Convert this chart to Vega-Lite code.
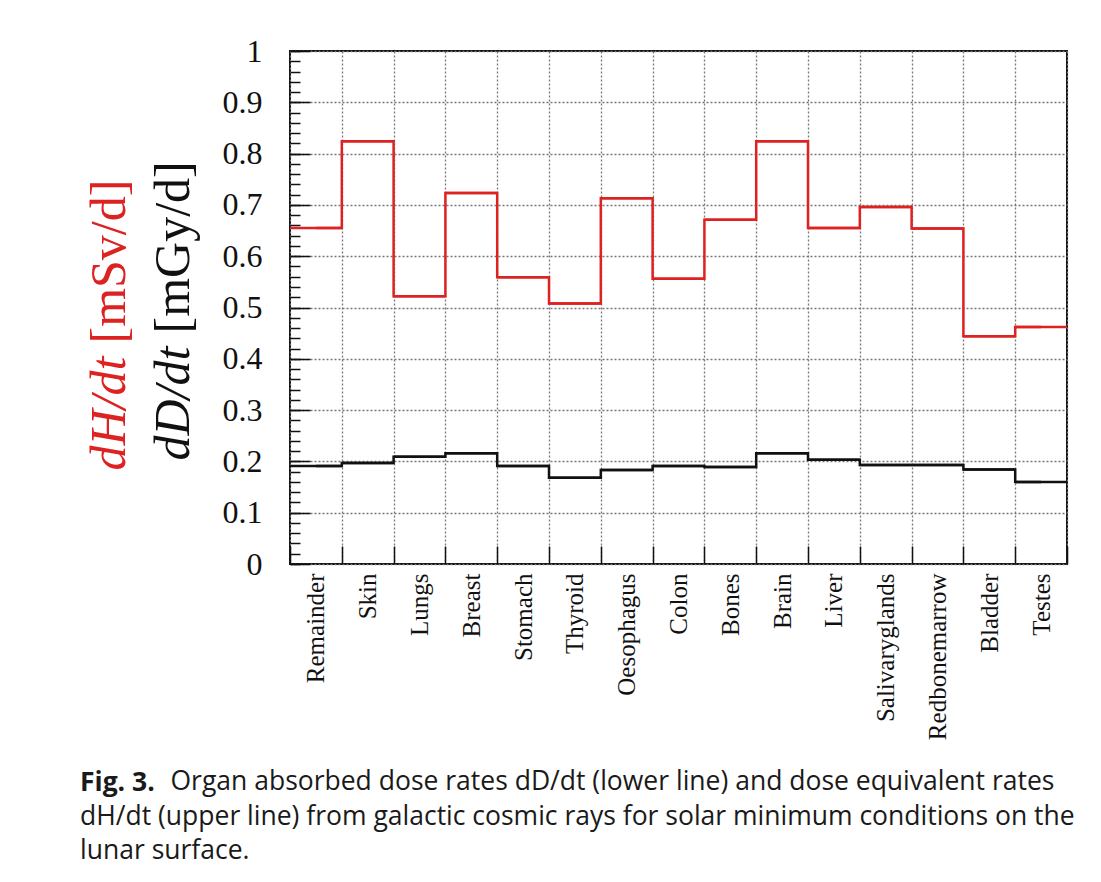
{
  "$schema": "https://vega.github.io/schema/vega-lite/v6.json",
  "width": 777,
  "height": 513,
  "autosize": "none",
  "padding": {"left": 290, "top": 51, "right": 34, "bottom": 318},
  "background": "white",
  "config": {
    "view": {"stroke": "#111111", "strokeWidth": 2},
    "axis": {"labelFont": "Liberation Serif", "titleFont": "Liberation Serif"}
  },
  "data": {
    "values": [
      {"organ": "Remainder", "H": 0.655, "D": 0.191},
      {"organ": "Skin", "H": 0.824, "D": 0.197},
      {"organ": "Lungs", "H": 0.522, "D": 0.209},
      {"organ": "Breast", "H": 0.723, "D": 0.216},
      {"organ": "Stomach", "H": 0.559, "D": 0.191},
      {"organ": "Thyroid", "H": 0.508, "D": 0.168},
      {"organ": "Oesophagus", "H": 0.713, "D": 0.183},
      {"organ": "Colon", "H": 0.556, "D": 0.191},
      {"organ": "Bones", "H": 0.671, "D": 0.189},
      {"organ": "Brain", "H": 0.824, "D": 0.216},
      {"organ": "Liver", "H": 0.655, "D": 0.203},
      {"organ": "Salivaryglands", "H": 0.696, "D": 0.193},
      {"organ": "Redbonemarrow", "H": 0.654, "D": 0.193},
      {"organ": "Bladder", "H": 0.444, "D": 0.184},
      {"organ": "Testes", "H": 0.462, "D": 0.160}
    ]
  },
  "title": {
    "text": "Fig. 3.",
    "subtitle": [
      "dH/dt (upper line) from galactic cosmic rays for solar minimum conditions on the",
      "lunar surface."
    ],
    "orient": "bottom",
    "anchor": "start",
    "frame": "group",
    "dx": -210,
    "offset": -25,
    "font": "Open Sans",
    "fontSize": 26.5,
    "fontWeight": "bold",
    "color": "#1a1a1a",
    "subtitleFont": "Open Sans",
    "subtitleFontSize": 26.5,
    "subtitleColor": "#1a1a1a",
    "subtitleLineHeight": 34,
    "subtitlePadding": 8
  },
  "encoding": {
    "x": {
      "field": "organ",
      "type": "nominal",
      "sort": null,
      "scale": {"type": "band", "paddingInner": 0, "paddingOuter": 0},
      "axis": {
        "title": "Organ absorbed dose rates dD/dt (lower line) and dose equivalent rates",
        "titleFont": "Open Sans",
        "titleFontSize": 26.5,
        "titleFontWeight": "normal",
        "titleColor": "#1a1a1a",
        "titleAngle": 0,
        "titleAlign": "left",
        "titleBaseline": "alphabetic",
        "titleX": -120,
        "titleY": 225,
        "labelAngle": -90,
        "labelFont": "Liberation Serif",
        "labelFontSize": 25,
        "labelColor": "#111111",
        "labelPadding": 27,
        "tickBand": "extent",
        "tickSize": -18,
        "tickColor": "#111111",
        "tickWidth": 1.5,
        "grid": true,
        "gridDash": [2, 2],
        "gridColor": "#777777",
        "gridWidth": 1.3,
        "domain": false
      }
    }
  },
  "layer": [
    {
      "mark": {"type": "tick", "color": "#111111", "opacity": 1, "thickness": 2.5, "size": 51.8},
      "encoding": {
        "y": {
          "field": "D",
          "type": "quantitative",
          "scale": {"domain": [0, 1], "nice": false},
          "axis": {
            "orient": "left",
            "values": [0, 0.1, 0.2, 0.3, 0.4, 0.5, 0.6, 0.7, 0.8, 0.9, 1],
            "format": "~g",
            "labelFontSize": 32,
            "labelColor": "#111111",
            "labelPadding": 28,
            "ticks": false,
            "domain": false,
            "grid": true,
            "gridDash": [2, 2],
            "gridColor": "#777777",
            "gridWidth": 1.3,
            "title": "dD/dt",
            "titleFontStyle": "italic",
            "titleFontWeight": "normal",
            "titleFontSize": 50,
            "titleColor": "#111111",
            "titleAngle": 270,
            "titleAlign": "left",
            "titleBaseline": "alphabetic",
            "titleX": -102,
            "titleY": 409
          }
        }
      }
    },
    {
      "mark": {"type": "tick", "color": "#dd2222", "opacity": 1, "thickness": 2.5, "size": 51.8},
      "encoding": {
        "y": {
          "field": "H",
          "type": "quantitative",
          "scale": {"domain": [0, 1], "nice": false},
          "axis": {
            "orient": "left",
            "values": [0, 0.1, 0.2, 0.3, 0.4, 0.5, 0.6, 0.7, 0.8, 0.9, 1],
            "labels": false,
            "ticks": true,
            "tickSize": -20,
            "tickColor": "#111111",
            "tickWidth": 1.5,
            "domain": false,
            "grid": false,
            "title": "dH/dt",
            "titleFontStyle": "italic",
            "titleFontWeight": "normal",
            "titleFontSize": 50,
            "titleColor": "#dd2222",
            "titleAngle": 270,
            "titleAlign": "left",
            "titleBaseline": "alphabetic",
            "titleX": -166,
            "titleY": 419
          }
        }
      }
    },
    {
      "mark": {"type": "line", "color": "#111111", "strokeWidth": 2.5, "interpolate": "step"},
      "encoding": {
        "x": {"field": "organ", "type": "nominal", "sort": null, "bandPosition": 0.5},
        "y": {
          "field": "D",
          "type": "quantitative",
          "scale": {"domain": [0, 1], "nice": false},
          "axis": {
            "orient": "left",
            "values": [0, 0.02, 0.04, 0.06, 0.08, 0.1, 0.12, 0.14, 0.16, 0.18, 0.2, 0.22, 0.24, 0.26, 0.28, 0.3, 0.32, 0.34, 0.36, 0.38, 0.4, 0.42, 0.44, 0.46, 0.48, 0.5, 0.52, 0.54, 0.56, 0.58, 0.6, 0.62, 0.64, 0.66, 0.68, 0.7, 0.72, 0.74, 0.76, 0.78, 0.8, 0.82, 0.84, 0.86, 0.88, 0.9, 0.92, 0.94, 0.96, 0.98, 1],
            "labels": false,
            "ticks": true,
            "tickSize": -10,
            "tickColor": "#111111",
            "tickWidth": 1.5,
            "domain": false,
            "grid": false,
            "title": "[mGy/d]",
            "titleFontStyle": "normal",
            "titleFontWeight": "normal",
            "titleFontSize": 50,
            "titleColor": "#111111",
            "titleAngle": 270,
            "titleAlign": "left",
            "titleBaseline": "alphabetic",
            "titleX": -102,
            "titleY": 282
          }
        }
      }
    },
    {
      "mark": {"type": "line", "color": "#dd2222", "strokeWidth": 2.5, "interpolate": "step"},
      "encoding": {
        "x": {"field": "organ", "type": "nominal", "sort": null, "bandPosition": 0.5},
        "y": {
          "field": "H",
          "type": "quantitative",
          "scale": {"domain": [0, 1], "nice": false},
          "axis": {
            "orient": "left",
            "labels": false,
            "ticks": false,
            "domain": false,
            "grid": false,
            "title": "[mSv/d]",
            "titleFontStyle": "normal",
            "titleFontWeight": "normal",
            "titleFontSize": 50,
            "titleColor": "#dd2222",
            "titleAngle": 270,
            "titleAlign": "left",
            "titleBaseline": "alphabetic",
            "titleX": -166,
            "titleY": 292
          }
        }
      }
    }
  ],
  "resolve": {"scale": {"y": "independent"}, "axis": {"y": "independent"}}
}
